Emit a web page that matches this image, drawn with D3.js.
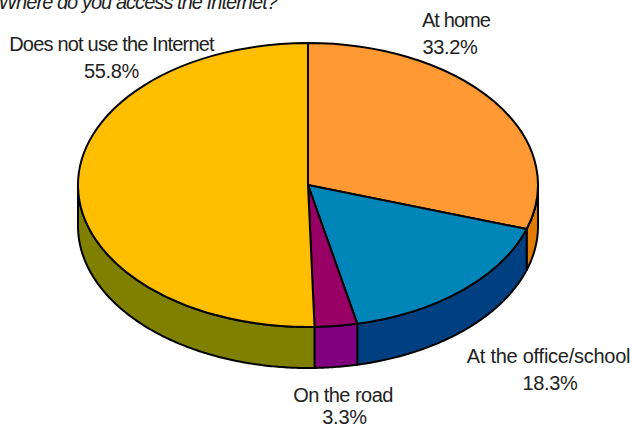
<!DOCTYPE html>
<html>
<head>
<meta charset="utf-8">
<script src="https://cdn.jsdelivr.net/npm/d3@7"></script>
<style>
  html, body { margin: 0; padding: 0; background: #fff; }
  svg { display: block; }
  text { font-family: "Liberation Sans", Arial, sans-serif; fill: #222; }
</style>
</head>
<body>
<div id="chart"></div>
<script>
// Chart data
const categories = ["At home", "At the office/school", "On the road", "Does not use the Internet"];
const percents = [33.2, 18.3, 3.3, 55.8];
const topColors = ["#ff9933", "#0085b8", "#990066", "#ffbf00"];
const sideColors = ["#e07c00", "#004080", "#800080", "#808000"];
const title = "Where do you access the Internet?";

const width = 632;
const height = 428;

// Pie geometry
const cx = 308;
const cy = 185;
const rx = 230;
const ry = 142;
const depth = 41;

const svg = d3.select("#chart")
  .append("svg")
    .attr("width", width)
    .attr("height", height);

// the percents add up to more than 100, the slices are just their shares
const slices = d3.pie().sort(null).value((d, i) => percents[i])(categories);

const px = a => cx + rx * Math.sin(a);
const py = a => cy - ry * Math.cos(a);

// Side walls, only the front half of the rim shows
const wall = d3.area()
  .x(a => px(a))
  .y0(a => py(a))
  .y1(a => py(a) + depth);

slices.forEach((s, i) => {
  const from = Math.max(s.startAngle, Math.PI / 2);
  const to = Math.min(s.endAngle, Math.PI * 1.5);
  if (to <= from) return;
  svg.append("path")
    .attr("d", wall(d3.range(from, to, 0.01).concat(to)))
    .attr("fill", sideColors[i])
    .attr("stroke", "#000")
    .attr("stroke-width", 2)
    .attr("stroke-linejoin", "round");
});

// Top face
const arc = d3.arc().innerRadius(0).outerRadius(rx);

svg.append("g")
    .attr("transform", `translate(${cx},${cy}) scale(1,${ry / rx})`)
  .selectAll("path")
  .data(slices)
  .join("path")
    .attr("d", arc)
    .attr("fill", (d, i) => topColors[i])
    .attr("stroke", "#000")
    .attr("stroke-width", 2)
    .attr("vector-effect", "non-scaling-stroke");

// Labels, name line and percent line are placed separately
// the original text is tall and tight, so a bigger size with negative spacing
const labelPos = [
  { x: 456, y: 27, px: 450, py: 54, ls: -0.9 },
  { x: 548.5, y: 363, px: 550, py: 390, ls: -0.25 },
  { x: 343, y: 402, px: 344.5, py: 424, ls: -0.55 },
  { x: 111.5, y: 51, px: 111.5, py: 78, ls: -0.8 }
];

svg.selectAll(".label")
  .data(categories)
  .join("text")
    .attr("class", "label")
    .attr("text-anchor", "middle")
    .attr("x", (d, i) => labelPos[i].x)
    .attr("y", (d, i) => labelPos[i].y)
    .style("font-size", "20px")
    .style("letter-spacing", (d, i) => labelPos[i].ls + "px")
    .text(d => d);

svg.selectAll(".pct")
  .data(percents)
  .join("text")
    .attr("class", "pct")
    .attr("text-anchor", "middle")
    .attr("x", (d, i) => labelPos[i].px)
    .attr("y", (d, i) => labelPos[i].py)
    .style("font-size", "20px")
    .style("letter-spacing", "-0.3px")
    .text(d => d3.format(".1f")(d) + "%");

svg.append("text")
  .attr("x", 277)
  .attr("y", 9)
  .attr("text-anchor", "end")
  .style("font-size", "20px")
  .style("font-style", "italic")
  .style("letter-spacing", "-0.95px")
  .text(title);
</script>
</body>
</html>
